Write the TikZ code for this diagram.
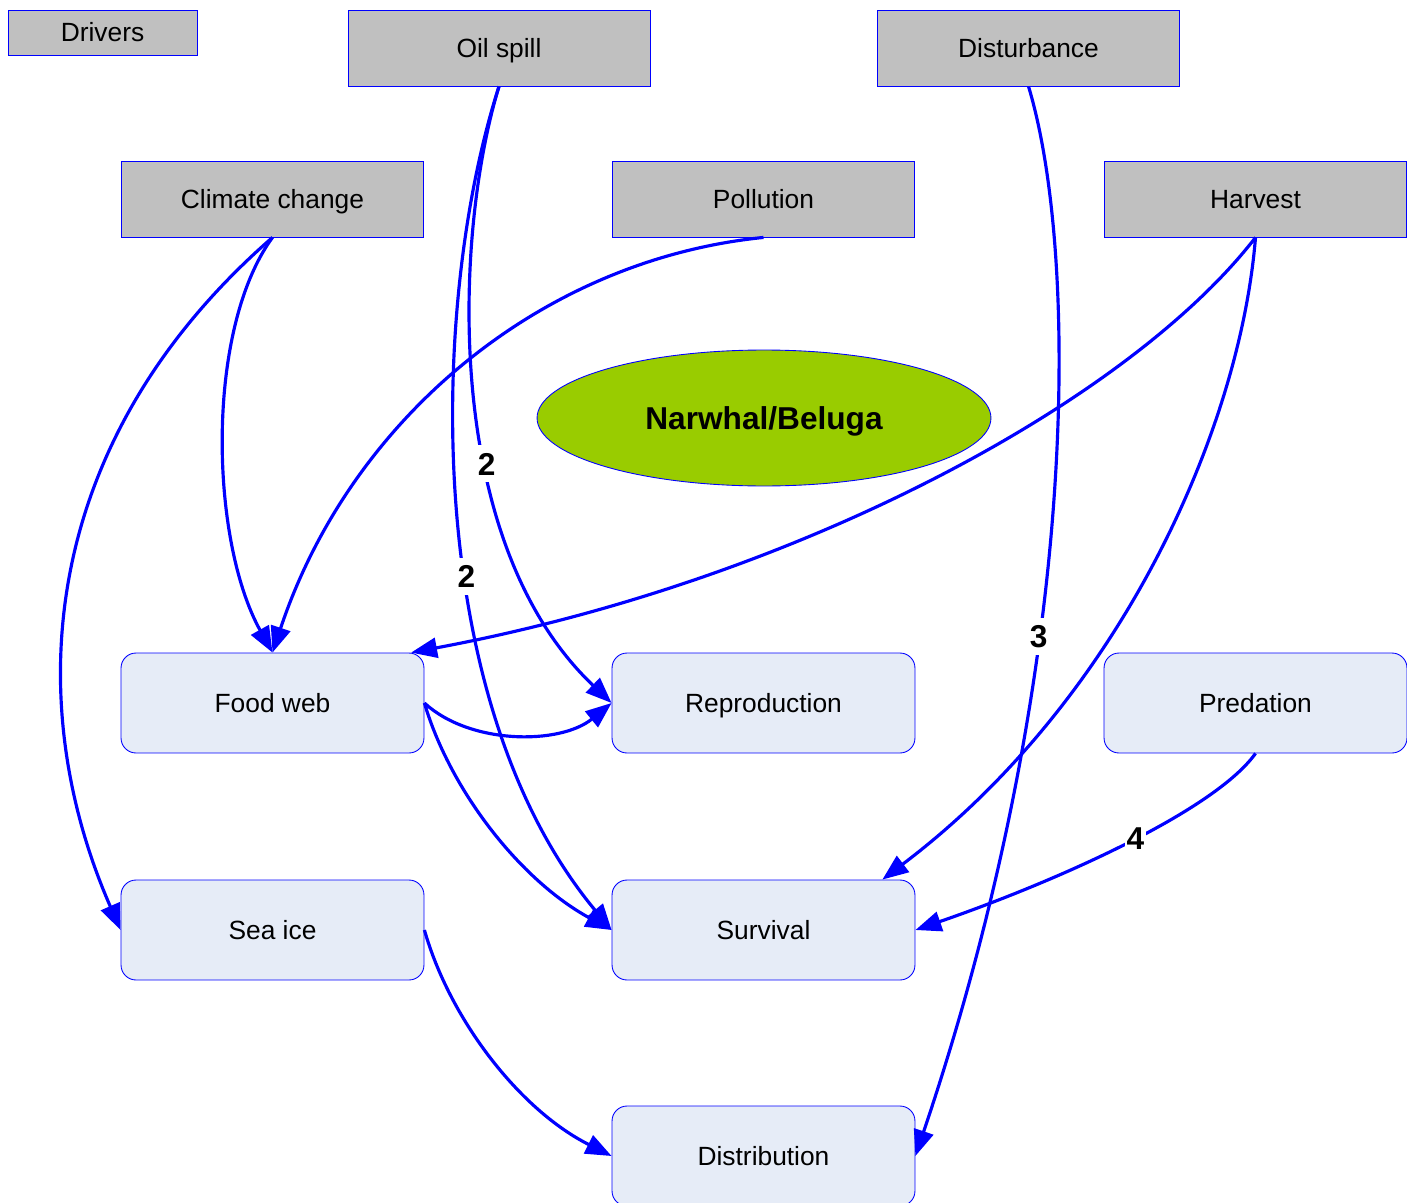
\documentclass[tikz,border=0pt]{standalone}
\usepackage{fontspec}
\setmainfont{Liberation Sans}
\usetikzlibrary{arrows.meta,shapes.geometric}
\definecolor{drivergray}{HTML}{C0C0C0}
\definecolor{boxfill}{HTML}{E6ECF7}
\definecolor{focusgreen}{HTML}{99CC00}
\begin{document}
\begin{tikzpicture}[x=0.02cm,y=-0.02cm,
  boxtext/.style={font=\fontsize{15}{18}\selectfont,text height=10.74pt,text depth=0pt},
  boldtext/.style={font=\fontsize{18}{20}\selectfont\bfseries,text height=12.9pt,text depth=0pt},
  driver/.style={draw=blue,line width=0.5pt,fill=drivergray,inner sep=0pt,
    minimum width=6.04cm,minimum height=1.52cm,boxtext},
  effect/.style={draw=blue,line width=0.5pt,fill=boxfill,rounded corners=0.3cm,inner sep=0pt,
    minimum width=6.06cm,minimum height=2cm,boxtext},
  link/.style={draw=blue,line width=1.8pt,-{Triangle[length=0.52cm,width=0.4cm]}},
  weight/.style={fill=white,inner xsep=1pt,inner ysep=4pt,boldtext}]
\useasboundingbox (0,0) rectangle (1407,1203);

% drivers
\node[driver,minimum width=3.78cm,minimum height=0.9cm] (drivers) at (102.5,32.5) {Drivers};
\node[driver] (oil)   at (499,48)    {Oil spill};
\node[driver] (dist)  at (1028.5,48) {Disturbance};
\node[driver] (clim)  at (272.5,199) {Climate change};
\node[driver] (poll)  at (763.5,199) {Pollution};
\node[driver] (harv)  at (1255.5,199) {Harvest};

% focal species
\node[ellipse,draw=blue,line width=0.5pt,fill=focusgreen,inner sep=0pt,
  minimum width=9.08cm,minimum height=2.72cm,boldtext] (whale) at (764,418) {Narwhal/Beluga};

% effects
\node[effect] (food)  at (272.5,703)  {Food web};
\node[effect] (repro) at (763.5,703)  {Reproduction};
\node[effect] (pred)  at (1255.5,703) {Predation};
\node[effect] (ice)   at (272.5,930)  {Sea ice};
\node[effect] (surv)  at (763.5,930)  {Survival};
\node[effect] (distr) at (763.5,1156) {Distribution};

% links
\draw[link] (clim.south) .. controls (205,330) and (210,540) .. (food.north);
\draw[link] (clim.south) .. controls (40,440) and (20,700) .. (ice.west);
\draw[link] (poll.south) .. controls (540,260) and (350,420) .. (food.north);
\draw[link] (oil.south) .. controls (455,230) and (440,540) .. node[weight,pos=0.61] {2} (repro.west);
\draw[link] (oil.south) .. controls (430,300) and (420,700) .. node[weight,pos=0.58] {2} (surv.west);
\draw[link] (dist.south) .. controls (1078,250) and (1083,660) .. node[weight,pos=0.62] {3} (distr.east);
\draw[link] (harv.south) .. controls (1130,400) and (800,580) .. (food.20);
\draw[link] (harv.south) .. controls (1240,430) and (1120,700) .. (surv.23.6);
\draw[link] (pred.south) .. controls (1215,810) and (1060,880) .. node[weight,pos=0.47] {4} (surv.east);
\draw[link] (food.east) .. controls (470,745) and (560,745) .. (repro.west);
\draw[link] (food.east) .. controls (450,790) and (520,880) .. (surv.west);
\draw[link] (ice.east) .. controls (450,1020) and (520,1110) .. (distr.west);
\end{tikzpicture}
\end{document}
